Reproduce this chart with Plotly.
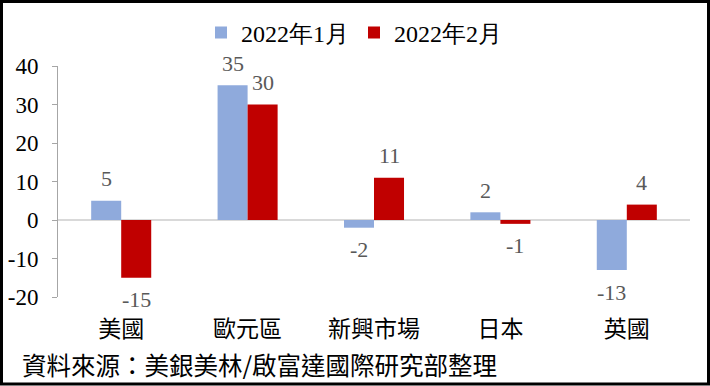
import plotly.graph_objects as go

categories = ["美國", "歐元區", "新興市場", "日本", "英國"]
jan_values = [5, 35, -2, 2, -13]
feb_values = [-15, 30, 11, -1, 4]
series_names = ["2022年1月", "2022年2月"]
y_ticks = [-20, -10, 0, 10, 20, 30, 40]
y_tick_text = ["-20", "-10", "0", "10", "20", "30", "40"]
source_text = "資料來源：美銀美林/啟富達國際研究部整理"

BLUE = "#8FAADC"
RED = "#C00000"
SERIF = "Liberation Serif, Times New Roman, serif"
CJK = "Noto Sans CJK TC, Liberation Serif, serif"

W, H = 710, 386
ML, MR, MT, MB = 58, 20, 66, 89
PW, PH = W - ML - MR, H - MT - MB

fig = go.Figure()
fig.add_trace(go.Bar(x=categories, y=jan_values, name=series_names[0],
                     marker=dict(color=BLUE, line=dict(width=0))))
fig.add_trace(go.Bar(x=categories, y=feb_values, name=series_names[1],
                     marker=dict(color=RED, line=dict(width=0))))

annotations = []
for vals, shift in ((jan_values, -15), (feb_values, 15)):
    for c, v in zip(categories, vals):
        annotations.append(dict(
            x=c, y=v, xref="x", yref="y", text=str(v), showarrow=False,
            xshift=shift, yshift=22 if v >= 0 else -22,
            font=dict(family=SERIF, size=22, color="#595959"),
            xanchor="center", yanchor="middle"))

annotations.append(dict(
    x=(20 - ML) / PW, y=-(364 - MT - PH) / PH, xref="paper", yref="paper",
    text=source_text, showarrow=False, xanchor="left", yanchor="middle",
    font=dict(family=CJK, size=24.5, color="#000000")))

fig.update_layout(
    width=W, height=H,
    margin=dict(l=ML, r=MR, t=MT, b=MB, pad=0, autoexpand=False),
    paper_bgcolor="white", plot_bgcolor="white",
    barmode="group", bargap=0.525, bargroupgap=0,
    showlegend=True,
    legend=dict(orientation="h", x=0.5 - 20 / PW, xanchor="center",
                y=1 + (MT - 33) / PH, yanchor="middle",
                font=dict(family=SERIF, size=24, color="#000000"),
                itemsizing="constant", itemwidth=30, traceorder="normal"),
    annotations=annotations,
    xaxis=dict(showline=False, showgrid=False, zeroline=False,
               ticks="", tickfont=dict(family=CJK, size=23, color="#000000"),
               ticklabelstandoff=16),
    yaxis=dict(range=[-20, 40], tickvals=y_ticks, ticktext=y_tick_text,
               showgrid=False,
               zeroline=True, zerolinecolor="#D9D9D9", zerolinewidth=2,
               showline=True, linecolor="#A6A6A6", linewidth=1,
               ticks="outside", ticklen=5, tickcolor="#A6A6A6",
               ticklabelstandoff=9,
               tickfont=dict(family=SERIF, size=23, color="#000000")),
    shapes=[dict(type="rect", xref="paper", yref="paper",
                 x0=(1.5 - ML) / PW, x1=(W - 1.5 - ML) / PW,
                 y0=-(MB - 2) / PH, y1=1 + (MT - 1.5) / PH,
                 line=dict(color="black", width=3), fillcolor="rgba(0,0,0,0)")],
)

fig.write_html("out.html", config={"displayModeBar": False},
               post_script="document.body.style.margin='0';")
